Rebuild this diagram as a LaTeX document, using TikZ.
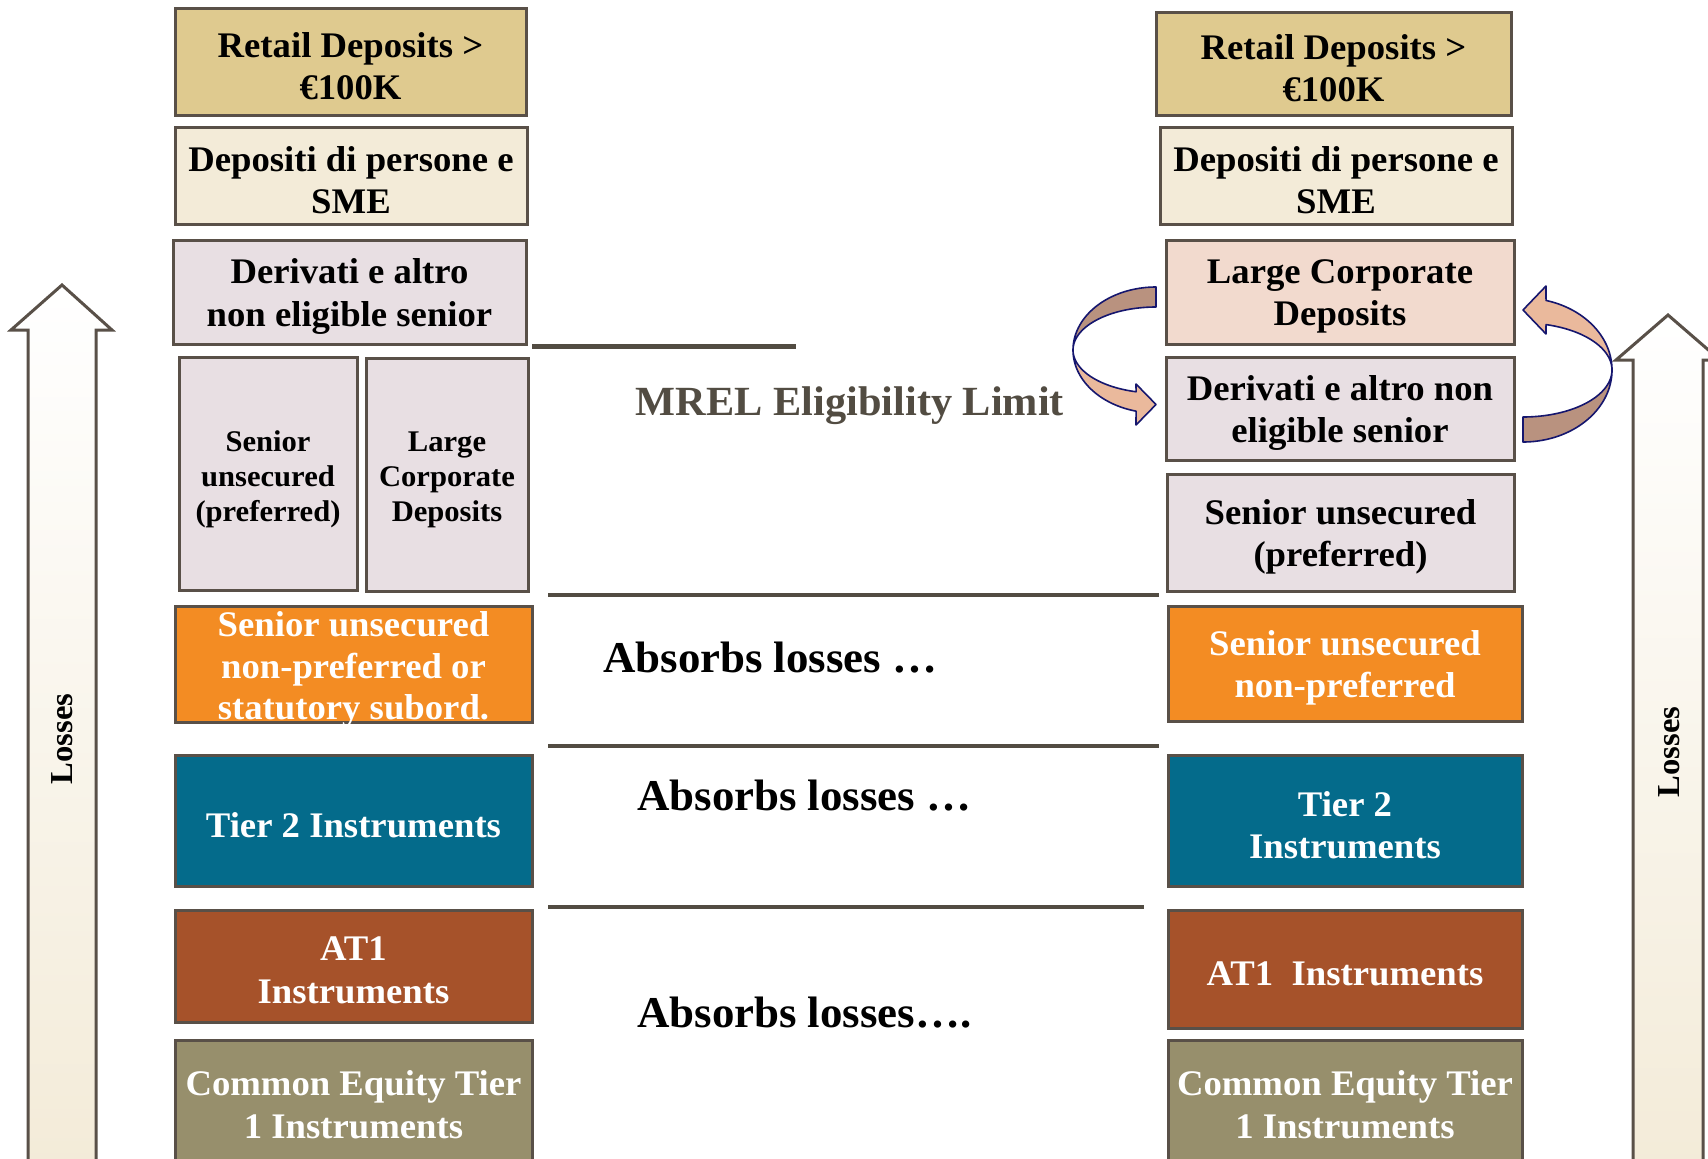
\documentclass[tikz,border=0pt]{standalone}
\usepackage{fontspec}
\setmainfont{Liberation Serif}[FakeStretch=1.02]
\usetikzlibrary{shadings}

\definecolor{bordc}{HTML}{595048}
\definecolor{linec}{HTML}{524C42}
\definecolor{retailc}{HTML}{DFCA8F}
\definecolor{creamc}{HTML}{F3EBD8}
\definecolor{lilac}{HTML}{E8DFE3}
\definecolor{corpc}{HTML}{F2DACE}
\definecolor{orangec}{HTML}{F38C23}
\definecolor{tealc}{HTML}{046B8B}
\definecolor{rustc}{HTML}{A6522A}
\definecolor{olivec}{HTML}{978F6C}
\definecolor{bandd}{HTML}{B9927F}
\definecolor{bandl}{HTML}{EAB99C}
\definecolor{navyc}{HTML}{15166E}

\tikzset{
  box/.style={draw=bordc, line width=3pt, inner sep=0pt},
  lab/.style={align=center, inner sep=0pt, yshift=-4.5pt,
    font=\bfseries\fontsize{36}{42.5}\selectfont},
  txt/.style={label={[lab]center:{#1}}},
  wtxt/.style={label={[lab, text=white]center:{#1}}},
  stxt/.style={label={[lab, yshift=-1pt, font=\bfseries\fontsize{30}{35}\selectfont]center:{#1}}},
  sep/.style={draw=linec, line width=4.5pt},
  note/.style={font=\bfseries\fontsize{44}{50}\selectfont, inner sep=0pt},
  bigarrow/.style={draw=bordc, line width=3pt, top color=white, bottom color=creamc, line join=miter},
  band/.style={draw=navyc, line width=1.6pt, line join=round},
  losses/.style={rotate=90, font=\bfseries\fontsize{32}{38}\selectfont, inner sep=0pt}
}

\begin{document}
\begin{tikzpicture}[x=1pt, y=-1pt]
\useasboundingbox (0,0) rectangle (1708,1159);
\fill[white] (0,0) rectangle (1708,1159);
\begin{scope}
\clip (0,0) rectangle (1708,1159);

% loss direction arrows
\path[bigarrow] (28,1175) -- (28,330) -- (11,330) -- (62,285) -- (112,330) -- (96,330) -- (96,1175) -- cycle;
\path[bigarrow] (1633,1175) -- (1633,360) -- (1616,360) -- (1668,315) -- (1720,360) -- (1703,360) -- (1703,1175) -- cycle;
\node[losses] (lossL) at (62,739) {Losses};
\node[losses] (lossR) at (1669,752) {Losses};

% left stack
\node[box, fill=retailc, minimum width=351pt, minimum height=107pt, txt={Retail Deposits >\\€100K}] (rd1) at (350.5,61.5) {};
\node[box, fill=creamc, minimum width=352pt, minimum height=97pt, txt={Depositi di persone e\\SME}] (dp1) at (351,175.5) {};
\node[box, fill=lilac, minimum width=353pt, minimum height=104pt, txt={Derivati e altro\\non eligible senior}] (dv1) at (349.5,292) {};
\node[box, fill=lilac, minimum width=178pt, minimum height=233pt, stxt={Senior\\unsecured\\(preferred)}] (sp1) at (268,473.5) {};
\node[box, fill=lilac, minimum width=162pt, minimum height=233pt, stxt={Large\\Corporate\\Deposits}] (lc1) at (447,474.5) {};
\node[box, fill=orangec, minimum width=357pt, minimum height=116pt,
  label={[lab, text=white, font=\bfseries\fontsize{36}{41.5}\selectfont, yshift=-1pt]center:{Senior unsecured\\non-preferred or\\statutory subord.}}] (nps1) at (353.5,664) {};
\node[box, fill=tealc, minimum width=357pt, minimum height=131pt, wtxt={Tier 2 Instruments}] (t2a) at (353.5,820.5) {};
\node[box, fill=rustc, minimum width=357pt, minimum height=112pt, wtxt={AT1\\Instruments}] (at1a) at (353.5,966) {};
\node[box, fill=olivec, minimum width=357pt, minimum height=120pt, wtxt={Common Equity Tier\\1 Instruments}] (ce1) at (353.5,1100) {};

% right stack
\node[box, fill=retailc, minimum width=355pt, minimum height=103pt, txt={Retail Deposits >\\€100K}] (rd2) at (1333.5,63.5) {};
\node[box, fill=creamc, minimum width=352pt, minimum height=97pt, txt={Depositi di persone e\\SME}] (dp2) at (1336,175.5) {};
\node[box, fill=corpc, minimum width=348pt, minimum height=104pt, txt={Large Corporate\\Deposits}] (lc2) at (1340,292) {};
\node[box, fill=lilac, minimum width=348pt, minimum height=103pt, txt={Derivati e altro non\\eligible senior}] (dv2) at (1340,408.5) {};
\node[box, fill=lilac, minimum width=347pt, minimum height=117pt, txt={Senior unsecured\\(preferred)}] (sp2) at (1340.5,532.5) {};
\node[box, fill=orangec, minimum width=354pt, minimum height=115pt, wtxt={Senior unsecured\\non-preferred}] (nps2) at (1345,663.5) {};
\node[box, fill=tealc, minimum width=354pt, minimum height=131pt, wtxt={Tier 2\\Instruments}] (t2b) at (1345,820.5) {};
\node[box, fill=rustc, minimum width=354pt, minimum height=118pt, wtxt={AT1\ \ Instruments}] (at1b) at (1345,969) {};
\node[box, fill=olivec, minimum width=354pt, minimum height=120pt, wtxt={Common Equity Tier\\1 Instruments}] (ce2) at (1345,1100) {};

% separating rules
\coordinate (m1) at (532,346);  \coordinate (m2) at (796,346);
\coordinate (a1) at (548,595);  \coordinate (a2) at (1159,595);
\coordinate (b1) at (548,746);  \coordinate (b2) at (1159,746);
\coordinate (c1) at (548,907);  \coordinate (c2) at (1144,907);
\draw[sep, line width=5pt] (m1) -- (m2);
\draw[sep] (a1) -- (a2);
\draw[sep] (b1) -- (b2);
\draw[sep] (c1) -- (c2);

\node[note, text=linec, font=\bfseries\fontsize{41.5}{48}\selectfont] (mrel) at (850,406) {MREL Eligibility Limit};
\node[note, anchor=west] (abs1) at (603,658) {Absorbs losses …};
\node[note, anchor=west] (abs2) at (637,796) {Absorbs losses …};
\node[note, anchor=west] (abs3) at (637,1013) {Absorbs losses….};

% swap arrow on the left: back of the ribbon, then the front with the head
\filldraw[band, fill=bandd]
  plot[domain=270:180, samples=40] ({1156+83*cos(\x)}, {350+63*sin(\x)})
  -- plot[domain=180:270, samples=40] ({1156+83*cos(\x)}, {350+43*sin(\x)}) -- cycle;
\filldraw[band, fill=bandl]
  plot[domain=180:103.9, samples=40] ({1156+83*cos(\x)}, {350+63*sin(\x)})
  -- (1136,425) -- (1156,404.5) -- (1136,384)
  -- plot[domain=103.9:180, samples=40] ({1156+83*cos(\x)}, {350+43*sin(\x)}) -- cycle;

% swap arrow on the right
\filldraw[band, fill=bandd]
  plot[domain=90:0, samples=40] ({1523+89*cos(\x)}, {370+72*sin(\x)})
  -- plot[domain=0:90, samples=40] ({1523+89*cos(\x)}, {370+47*sin(\x)}) -- cycle;
\filldraw[band, fill=bandl]
  plot[domain=0:-75, samples=40] ({1523+89*cos(\x)}, {370+72*sin(\x)})
  -- (1546,286) -- (1523,310) -- (1546,334)
  -- plot[domain=-75:0, samples=40] ({1523+89*cos(\x)}, {370+47*sin(\x)}) -- cycle;
\end{scope}
\end{tikzpicture}
\end{document}
